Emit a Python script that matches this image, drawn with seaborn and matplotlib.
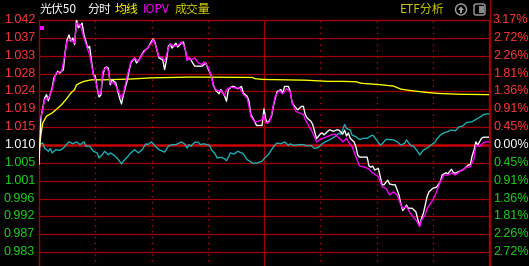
import matplotlib
matplotlib.use("Agg")
import matplotlib.pyplot as plt
import matplotlib.transforms as mtransforms
from matplotlib.lines import Line2D
from matplotlib.patches import Circle, FancyBboxPatch, Rectangle, Polygon
import numpy as np
import pandas as pd
import seaborn as sns

# ---------------- data ----------------
prev_close = 1.010
max_pct = 3.17

price_labels = ['1.042', '1.037', '1.033', '1.028', '1.024', '1.019', '1.015',
                '1.010', '1.005', '1.001', '0.996', '0.992', '0.987', '0.983']
pct_labels = ['3.17%', '2.72%', '2.26%', '1.81%', '1.36%', '0.91%', '0.45%',
              '0.00%', '0.45%', '0.91%', '1.36%', '1.81%', '2.26%', '2.72%']

price_min = [0, 1, 2, 3, 4, 5, 6, 7, 8, 10, 11, 13, 14, 15, 16, 17, 18, 19, 20, 21,
             23, 24, 25, 26, 27, 28, 29, 30, 31, 32, 33, 34, 35, 36, 37, 38, 39, 41,
             42, 43, 44, 45, 47, 48, 49, 51, 52, 53, 55, 56, 58, 60, 61, 62, 63, 64,
             66, 67, 68, 69, 70, 71, 73, 74, 76, 77, 78, 79, 80, 81, 83, 85, 87, 89,
             90, 92, 93, 94, 96, 97, 99, 100, 101, 103, 104, 106, 108, 109, 111, 112,
             113, 115, 116, 118, 119, 120, 121, 122, 124, 125, 126, 127, 129, 130,
             131, 133, 134, 135, 137, 138, 140, 141, 142, 143, 145, 146, 147, 148,
             150, 151, 152, 154, 155, 157, 159, 160, 162, 163, 164, 165, 166, 168,
             169, 170, 171, 173, 175, 176, 177, 178, 179, 181, 182, 183, 184, 186,
             187, 189, 190, 191, 192, 193, 194, 195, 196, 197, 199, 201, 202, 203,
             204, 205, 206, 207, 208, 210, 212, 214, 215, 217, 218, 220, 221, 222,
             224, 226, 227, 229, 230, 231, 232, 233, 234, 236, 237, 240]
price_val = [1.0050, 1.0169, 1.0195, 1.0220, 1.0229, 1.0213, 1.0231, 1.0246, 1.0272,
             1.0289, 1.0284, 1.0293, 1.0341, 1.0370, 1.0382, 1.0366, 1.0374, 1.0357,
             1.0421, 1.0400, 1.0412, 1.0382, 1.0366, 1.0348, 1.0353, 1.0315, 1.0280,
             1.0277, 1.0246, 1.0223, 1.0228, 1.0277, 1.0297, 1.0300, 1.0297, 1.0254,
             1.0267, 1.0259, 1.0238, 1.0220, 1.0205, 1.0228, 1.0264, 1.0289, 1.0310,
             1.0323, 1.0310, 1.0315, 1.0333, 1.0341, 1.0348, 1.0366, 1.0372, 1.0361,
             1.0341, 1.0323, 1.0318, 1.0293, 1.0318, 1.0353, 1.0359, 1.0348, 1.0361,
             1.0351, 1.0361, 1.0364, 1.0344, 1.0318, 1.0323, 1.0318, 1.0302, 1.0302,
             1.0302, 1.0310, 1.0297, 1.0276, 1.0254, 1.0242, 1.0231, 1.0242, 1.0225,
             1.0212, 1.0242, 1.0250, 1.0250, 1.0244, 1.0250, 1.0233, 1.0225, 1.0212,
             1.0178, 1.0161, 1.0150, 1.0150, 1.0150, 1.0193, 1.0165, 1.0156, 1.0173,
             1.0199, 1.0220, 1.0237, 1.0242, 1.0233, 1.0250, 1.0250, 1.0237, 1.0208,
             1.0195, 1.0190, 1.0199, 1.0199, 1.0178, 1.0169, 1.0161, 1.0152, 1.0135,
             1.0116, 1.0128, 1.0131, 1.0126, 1.0135, 1.0139, 1.0135, 1.0139, 1.0138,
             1.0128, 1.0138, 1.0123, 1.0131, 1.0117, 1.0108, 1.0096, 1.0074, 1.0069,
             1.0069, 1.0069, 1.0046, 1.0043, 1.0046, 1.0036, 1.0040, 1.0019, 0.9998,
             0.9998, 1.0010, 1.0000, 0.9998, 0.9998, 0.9985, 0.9972, 0.9949, 0.9932,
             0.9938, 0.9946, 0.9938, 0.9938, 0.9929, 0.9910, 0.9893, 0.9912, 0.9925,
             0.9946, 0.9968, 0.9980, 0.9989, 0.9992, 1.0006, 1.0023, 1.0029, 1.0026,
             1.0038, 1.0029, 1.0028, 1.0032, 1.0036, 1.0040, 1.0049, 1.0049, 1.0072,
             1.0087, 1.0108, 1.0100, 1.0117, 1.0120, 1.0120]

iopv_min = [1, 3, 5, 7, 9, 12, 14, 15, 17, 19, 20, 22, 24, 26, 27, 29, 30, 32, 33,
            34, 36, 37, 38, 40, 42, 44, 45, 47, 49, 51, 53, 55, 57, 60, 61, 62, 64,
            66, 67, 69, 70, 72, 74, 76, 78, 79, 80, 81, 83, 85, 87, 88, 90, 92, 93,
            95, 97, 99, 100, 102, 105, 107, 109, 111, 112, 113, 115, 117, 119, 120,
            121, 123, 124, 125, 126, 128, 130, 132, 134, 135, 137, 139, 141, 142,
            144, 146, 148, 150, 152, 154, 156, 158, 159, 161, 162, 164, 165, 167,
            169, 171, 174, 176, 178, 181, 183, 185, 187, 189, 191, 193, 194, 196,
            198, 201, 203, 204, 206, 207, 210, 212, 214, 216, 218, 220, 222, 225,
            228, 230, 232, 233, 235, 237, 239, 240]
iopv_val = [1.0169, 1.0216, 1.0220, 1.0242, 1.0284, 1.0289, 1.0336, 1.0366, 1.0370,
            1.0361, 1.0412, 1.0408, 1.0374, 1.0344, 1.0331, 1.0280, 1.0267, 1.0229,
            1.0233, 1.0289, 1.0299, 1.0289, 1.0259, 1.0259, 1.0242, 1.0220, 1.0233,
            1.0276, 1.0314, 1.0323, 1.0314, 1.0331, 1.0344, 1.0361, 1.0370, 1.0357,
            1.0327, 1.0323, 1.0314, 1.0348, 1.0359, 1.0353, 1.0355, 1.0364, 1.0348,
            1.0316, 1.0325, 1.0318, 1.0323, 1.0310, 1.0306, 1.0313, 1.0302, 1.0276,
            1.0250, 1.0239, 1.0239, 1.0227, 1.0242, 1.0248, 1.0246, 1.0246, 1.0229,
            1.0220, 1.0199, 1.0173, 1.0159, 1.0161, 1.0165, 1.0178, 1.0156, 1.0159,
            1.0178, 1.0203, 1.0225, 1.0239, 1.0231, 1.0244, 1.0236, 1.0208, 1.0186,
            1.0182, 1.0178, 1.0165, 1.0148, 1.0131, 1.0108, 1.0114, 1.0118, 1.0122,
            1.0126, 1.0128, 1.0122, 1.0114, 1.0108, 1.0117, 1.0108, 1.0096, 1.0070,
            1.0046, 1.0043, 1.0038, 1.0028, 1.0019, 0.9993, 0.9989, 0.9972, 0.9980,
            0.9972, 0.9946, 0.9938, 0.9942, 0.9925, 0.9908, 0.9891, 0.9908, 0.9921,
            0.9938, 0.9959, 0.9980, 1.0006, 1.0023, 1.0023, 1.0028, 1.0023, 1.0034,
            1.0043, 1.0044, 1.0066, 1.0100, 1.0096, 1.0106, 1.0108, 1.0108]
iopv_first_min = [1.6]
iopv_first_val = [1.0400]

avg_min = [0, 1, 2, 4, 7, 9, 12, 15, 17, 19, 20, 22, 24, 28, 35, 49, 60, 71, 81,
           114, 115, 119, 142, 154, 162, 169, 172, 181, 189, 193, 199, 206, 213,
           224, 240]
avg_val = [1.0085, 1.0126, 1.0156, 1.0174, 1.0182, 1.0190, 1.0203, 1.0220, 1.0233,
           1.0242, 1.0254, 1.0259, 1.0263, 1.0267, 1.0267, 1.0269, 1.0272, 1.0273,
           1.0274, 1.0273, 1.0270, 1.0268, 1.0266, 1.0263, 1.0263, 1.0262, 1.0258,
           1.0255, 1.0251, 1.0243, 1.0239, 1.0235, 1.0232, 1.0230, 1.0229]

idx_min = [0, 2, 3, 5, 6, 7, 9, 11, 13, 15, 16, 18, 20, 22, 24, 25, 27, 29, 31, 32,
           34, 35, 37, 38, 40, 42, 44, 45, 47, 49, 51, 53, 55, 57, 58, 60, 62, 64,
           65, 67, 69, 71, 73, 76, 78, 79, 80, 81, 83, 85, 86, 88, 91, 92, 94, 95,
           97, 99, 100, 101, 102, 104, 106, 108, 109, 111, 114, 116, 119, 120, 122,
           124, 126, 127, 129, 131, 133, 134, 136, 139, 141, 143, 145, 147, 149, 151,
           153, 155, 156, 158, 160, 161, 162, 163, 164, 166, 167, 169, 171, 173, 175,
           177, 178, 180, 182, 183, 185, 187, 189, 191, 193, 195, 196, 198, 200, 202,
           203, 205, 207, 209, 211, 212, 214, 216, 218, 220, 222, 224, 226, 228, 231,
           233, 235, 237, 239, 240]
idx_pct = [0.01, 0.05, -0.08, -0.16, -0.09, -0.20, -0.12, -0.14, -0.08, 0.03, 0.08,
           0.03, 0.08, 0.01, 0.08, -0.03, -0.03, -0.16, -0.20, -0.33, -0.23, -0.16,
           -0.25, -0.20, -0.26, -0.35, -0.48, -0.41, -0.31, -0.20, -0.12, -0.20, -0.12,
           0.03, 0.01, 0.08, -0.03, -0.12, -0.14, -0.18, -0.03, 0.01, 0.01, 0.08, 0.01,
           -0.08, 0.01, -0.03, 0.07, 0.07, 0.01, 0.03, -0.01, -0.12, -0.23, -0.33,
           -0.31, -0.35, -0.40, -0.31, -0.20, -0.23, -0.16, -0.20, -0.23, -0.37, -0.46,
           -0.46, -0.41, -0.35, -0.26, -0.12, 0.01, 0.05, 0.03, 0.08, -0.01, 0.03,
           -0.01, 0.01, 0.01, -0.02, -0.01, -0.09, -0.06, 0.03, 0.09, 0.13, 0.16, 0.22,
           0.30, 0.26, 0.40, 0.52, 0.42, 0.38, 0.25, 0.21, 0.14, 0.17, 0.17, 0.23, 0.25,
           0.13, 0.00, 0.03, 0.14, 0.14, 0.13, 0.08, 0.00, 0.04, 0.13, 0.00, -0.04,
           -0.17, -0.25, -0.13, -0.08, 0.00, 0.06, 0.14, 0.25, 0.31, 0.34, 0.38, 0.36,
           0.46, 0.48, 0.57, 0.59, 0.65, 0.70, 0.77, 0.79, 0.79]

# ---------------- style ----------------
sns.set_style("dark")
plt.rcParams['font.family'] = ['Liberation Sans', 'DejaVu Sans']

W, H = 529, 266
fig = plt.figure(figsize=(W / 100, H / 100), dpi=100, facecolor='black')
ax = fig.add_axes([39 / W, -4 / H, 450 / W, 250 / H])
ax.set_facecolor('black')

def to_pct(vals):
    return (np.asarray(vals) / prev_close - 1.0) * 100.0

df_idx = pd.DataFrame({'minute': idx_min, 'pct': idx_pct})
df_avg = pd.DataFrame({'minute': avg_min, 'pct': to_pct(avg_val)})
df_price = pd.DataFrame({'minute': price_min, 'pct': to_pct(price_val)})
df_iopv = pd.DataFrame({'minute': iopv_min, 'pct': to_pct(iopv_val)})

grid_red = '#a00000'
step = max_pct / 7

# grid
for k in range(-6, 7):
    if k == 0:
        continue
    ax.axhline(k * step, color=grid_red, lw=0.9, zorder=1)
ax.axhline(0, color='#c80000', lw=1.8, zorder=1)
for m in [30, 60, 90, 150, 180, 210]:
    ax.axvline(m, color='#c00000', lw=1.0, ls=(0, (1, 3.2)), zorder=1)
ax.axvline(120, color=grid_red, lw=0.9, zorder=1)

lw = 0.95
sns.lineplot(data=df_idx, x='minute', y='pct', color='#1fb4b8', lw=lw,
             estimator=None, sort=False, ax=ax, zorder=3)
sns.lineplot(data=df_avg, x='minute', y='pct', color='#ffff00', lw=lw,
             estimator=None, sort=False, ax=ax, zorder=3)
sns.lineplot(data=df_price, x='minute', y='pct', color='white', lw=lw,
             estimator=None, sort=False, ax=ax, zorder=4)
sns.lineplot(data=df_iopv, x='minute', y='pct', color='#ff00ff', lw=lw,
             estimator=None, sort=False, ax=ax, zorder=5)
sns.scatterplot(x=iopv_first_min, y=to_pct(iopv_first_val), color='#ff00ff',
                marker='s', s=5, linewidth=0, ax=ax, zorder=5)

ax.set_xlim(0, 240)
ax.set_ylim(-max_pct, max_pct)
ax.set_xticks([])
ax.set_yticks([])
ax.set_xlabel('')
ax.set_ylabel('')
ax.grid(False)
for s in ax.spines.values():
    s.set_color(grid_red)
    s.set_linewidth(1.0)

# axis labels
trans = mtransforms.blended_transform_factory(ax.transAxes, ax.transData)
for i, (pl, cl) in enumerate(zip(price_labels, pct_labels)):
    k = 7 - i
    y = k * step
    if k > 0:
        col = '#ff3838'
    elif k == 0:
        col = 'white'
    else:
        col = '#20d020'
    ax.text(-4 / 450, y, pl, transform=trans, ha='right', va='center',
            color=col, fontsize=9, clip_on=False)
    ax.text(1 + 4 / 450, y, cl, transform=trans, ha='left', va='center',
            color=col, fontsize=9, clip_on=False)

# right border extends to top
fig.add_artist(Line2D([489.5 / W, 489.5 / W], [0, 1], color=grid_red, lw=1.0,
                      transform=fig.transFigure))

# header texts
cjk = ['Noto Sans CJK SC', 'DejaVu Sans']
ty = 1 - 9.5 / H
header = [('光伏50', 40, 'white'), ('分时', 87, 'white'), ('均线', 115, '#ffff00'),
          ('IOPV', 143, '#ff00ff'), ('成交量', 175, '#cccc00'), ('ETF分析', 400, '#cccc00')]
for txt, x, col in header:
    fig.text(x / W, ty, txt, color=col, fontsize=8.6, family=cjk,
             ha='left', va='center')

# icons (display coords)
ident = mtransforms.IdentityTransform()
fig.add_artist(Circle((461, H - 9.5), 5.5, fill=False, ec='#a0a0a0', lw=1.0,
                      transform=ident))
fig.add_artist(Polygon([[458, H - 10], [461, H - 6.5], [464, H - 10]], closed=True,
                       fc='#a0a0a0', ec='none', transform=ident))
fig.add_artist(Rectangle((460.2, H - 13), 1.6, 3.5, fc='#a0a0a0', ec='none',
                         transform=ident))
fig.add_artist(FancyBboxPatch((474, H - 15), 11, 11, boxstyle='round,pad=0,rounding_size=2',
                              fill=False, ec='#a0a0a0', lw=1.0, transform=ident))
fig.add_artist(Rectangle((479, H - 13), 4.5, 7, fc='#8a8a8a', ec='none',
                         transform=ident))

fig.savefig('out.png', dpi=100, facecolor='black')
